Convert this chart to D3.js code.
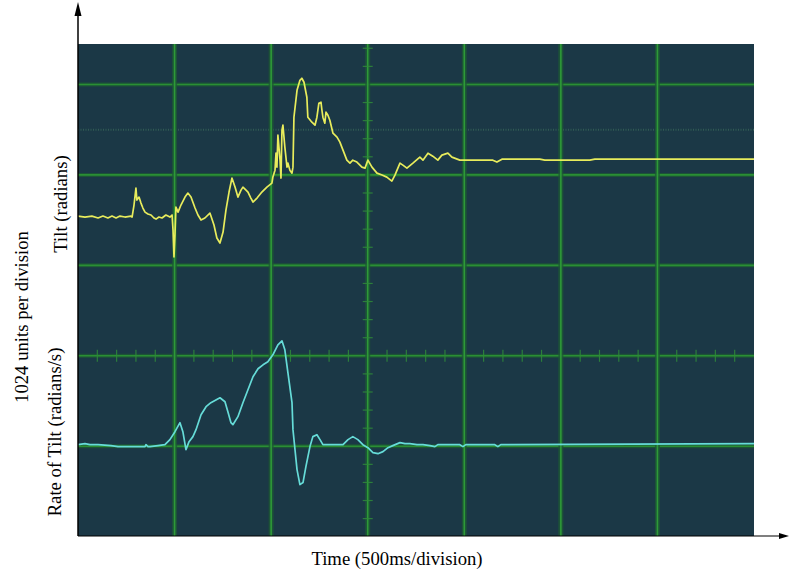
<!DOCTYPE html>
<html>
<head>
<meta charset="utf-8">
<script src="https://cdn.jsdelivr.net/npm/d3@7/dist/d3.min.js"></script>
<style>
  html, body { margin: 0; padding: 0; background: #ffffff; }
  svg { display: block; }
  text { font-family: "Liberation Serif", "Times New Roman", serif; fill: #000; }
</style>
</head>
<body>
<svg id="chart" width="789" height="573"></svg>
<script>
// ---- Data (time in ms, values in ADC units; 1024 units per division) ----
const tiltTime = [0,36,72,104,129,155,176,197,217,243,274,280,290,300,305,316,326,336,347,362,378,393,404,419,435,455,476,487,492,497,502,507,518,533,554,569,585,606,621,637,657,683,704,719,735,751,766,782,797,813,828,844,854,870,880,895,906,927,952,978,1004,1009,1020,1025,1030,1035,1046,1051,1056,1061,1071,1082,1087,1097,1108,1113,1118,1134,1149,1159,1170,1185,1190,1211,1227,1237,1247,1258,1263,1268,1278,1284,1294,1304,1320,1341,1356,1372,1392,1408,1423,1444,1470,1486,1501,1522,1548,1574,1599,1625,1641,1667,1682,1703,1734,1770,1786,1812,1837,1863,1884,1915,1936,1977,2013,2148,2169,2195,2391,2417,2650,2676,3500];
const tiltValue = [1582,1571,1582,1560,1582,1560,1582,1560,1582,1571,1582,1571,1707,1899,1763,1797,1729,1673,1627,1605,1594,1560,1548,1571,1560,1594,1571,1594,1424,1119,1368,1684,1627,1707,1797,1842,1797,1673,1594,1537,1560,1616,1481,1334,1277,1401,1650,1854,2012,1910,1797,1876,1910,1876,1854,1786,1741,1786,1854,1910,1955,2023,2102,2294,2136,2498,2215,2012,2554,2611,2362,2136,2181,2102,2068,2136,2701,3006,3119,3142,3097,2927,2701,2645,2611,2701,2859,2871,2780,2701,2633,2758,2724,2667,2520,2475,2419,2328,2215,2181,2215,2193,2136,2125,2215,2136,2068,2046,2023,1978,2046,2181,2159,2125,2181,2249,2215,2294,2260,2215,2272,2294,2249,2215,2215,2215,2193,2226,2226,2215,2215,2226,2226];

const rateTime = [0,36,62,104,171,207,259,311,347,352,362,373,414,450,476,502,528,543,559,575,595,611,637,663,688,735,761,776,792,802,828,854,880,906,932,958,983,1009,1035,1056,1071,1087,1108,1113,1134,1149,1165,1180,1201,1216,1237,1253,1268,1304,1372,1398,1423,1449,1475,1501,1527,1553,1579,1605,1630,1667,1693,1718,1755,1786,1822,1848,1863,1977,1993,2008,2158,2174,2189,3500];
const rateValue = [-1006,-995,-1006,-1006,-1017,-1028,-1028,-1028,-1028,-1006,-1028,-1028,-1017,-1006,-949,-859,-757,-859,-1062,-972,-915,-836,-667,-576,-531,-475,-520,-633,-757,-780,-689,-531,-384,-237,-147,-102,-68,11,124,170,68,-192,-531,-836,-1288,-1458,-1435,-1255,-1028,-915,-893,-949,-1006,-1006,-1006,-949,-915,-949,-1006,-1040,-1096,-1108,-1085,-1040,-1017,-983,-995,-995,-1006,-1006,-1017,-1028,-1006,-1006,-1028,-1006,-1006,-1028,-1006,-995];

const timeGrid = [500, 1000, 1500, 2000, 2500, 3000];      // ms
const valueGrid = [-1024, 0, 1024, 2048, 3072];             // units
const dottedGrid = [2560];
const timeDomain = [0, 3500];
const valueDomain = [-2040, 3530];

const labels = {
  x: "Time (500ms/division)",
  yMid: "1024 units per division",
  yTop: "Tilt (radians)",
  yBottom: "Rate of Tilt (radians/s)"
};

// ---- Layout ----
const svg = d3.select("#chart");
const L = 78, R = 754, T = 44, B = 536;

const x = d3.scaleLinear().domain(timeDomain).range([L, R]);
const y = d3.scaleLinear().domain(valueDomain).range([B, T]);

svg.append("rect")
  .attr("x", L).attr("y", T).attr("width", R - L).attr("height", B - T)
  .attr("fill", "#1b3846");

const grid = svg.append("g");

// dotted faint line
grid.selectAll("line.dot").data(dottedGrid).join("line")
  .attr("x1", L).attr("x2", R)
  .attr("y1", d => y(d)).attr("y2", d => y(d))
  .attr("stroke", "#3b6a5a").attr("stroke-width", 2)
  .attr("stroke-dasharray", "1,1.5").attr("opacity", 0.7);

// horizontal grid lines (halo + core)
grid.selectAll("line.hh").data(valueGrid).join("line")
  .attr("x1", L).attr("x2", R)
  .attr("y1", d => y(d)).attr("y2", d => y(d))
  .attr("stroke", "#1d5a34").attr("stroke-width", 4).attr("opacity", 0.8);
grid.selectAll("line.hc").data(valueGrid).join("line")
  .attr("x1", L).attr("x2", R)
  .attr("y1", d => y(d)).attr("y2", d => y(d))
  .attr("stroke", "#2a8f34").attr("stroke-width", 1.6);

// vertical grid lines
grid.selectAll("line.vh").data(timeGrid).join("line")
  .attr("y1", T).attr("y2", B)
  .attr("x1", d => x(d)).attr("x2", d => x(d))
  .attr("stroke", "#1d5a34").attr("stroke-width", 5).attr("opacity", 0.8);
grid.selectAll("line.vc").data(timeGrid).join("line")
  .attr("y1", T).attr("y2", B)
  .attr("x1", d => x(d)).attr("x2", d => x(d))
  .attr("stroke", "#2e9a38").attr("stroke-width", 1.6);

// minor ticks on centre horizontal line (every 100 ms)
const minorT = d3.range(100, 3500, 100).filter(d => d % 500 !== 0);
grid.selectAll("line.mt").data(minorT).join("line")
  .attr("x1", d => x(d)).attr("x2", d => x(d))
  .attr("y1", y(0) - 6).attr("y2", y(0) + 6)
  .attr("stroke", "#2f8a3a").attr("stroke-width", 1.2).attr("opacity", 0.85);

// minor ticks on centre vertical line (every 1/5 division)
const minorV = d3.range(-10, 18).map(i => i * 1024 / 5).filter((d, i) => (i % 5) !== 0);
grid.selectAll("line.mv").data(minorV.filter(d => y(d) > T + 2 && y(d) < B - 2)).join("line")
  .attr("x1", x(1500) - 5).attr("x2", x(1500) + 5)
  .attr("y1", d => y(d)).attr("y2", d => y(d))
  .attr("stroke", "#2f8a3a").attr("stroke-width", 1.2).attr("opacity", 0.85);

// ---- Traces ----
const tiltData = tiltTime.map((t, i) => [t, tiltValue[i]]);
const rateData = rateTime.map((t, i) => [t, rateValue[i]]);
const line = d3.line().x(d => x(d[0])).y(d => y(d[1]));

svg.append("path").datum(tiltData)
  .attr("d", line).attr("fill", "none")
  .attr("stroke", "#e8ec5c").attr("stroke-width", 1.7).attr("stroke-linejoin", "round");
svg.append("path").datum(rateData)
  .attr("d", line).attr("fill", "none")
  .attr("stroke", "#66dcd8").attr("stroke-width", 1.7).attr("stroke-linejoin", "round");

// ---- Axes arrows ----
svg.append("line").attr("x1", L).attr("x2", L).attr("y1", B).attr("y2", 14)
  .attr("stroke", "#000").attr("stroke-width", 1.5);
svg.append("path").attr("d", `M${L},2 L${L - 3.5},16 L${L + 3.5},16 Z`).attr("fill", "#000");

svg.append("line").attr("x1", L).attr("x2", 782).attr("y1", B).attr("y2", B)
  .attr("stroke", "#000").attr("stroke-width", 1.2);
svg.append("path").attr("d", `M789,${B} L779,${B - 3} L779,${B + 3} Z`).attr("fill", "#000");

// ---- Labels ----
const fs = 18.7;
svg.append("text").attr("x", 397).attr("y", 565)
  .attr("text-anchor", "middle").attr("font-size", fs).text(labels.x);

svg.append("text").attr("transform", "translate(67,204) rotate(-90)")
  .attr("text-anchor", "middle").attr("font-size", fs).text(labels.yTop);
svg.append("text").attr("transform", "translate(28,317) rotate(-90)")
  .attr("text-anchor", "middle").attr("font-size", fs).text(labels.yMid);
svg.append("text").attr("transform", "translate(61,432) rotate(-90)")
  .attr("text-anchor", "middle").attr("font-size", fs).text(labels.yBottom);
</script>
</body>
</html>
